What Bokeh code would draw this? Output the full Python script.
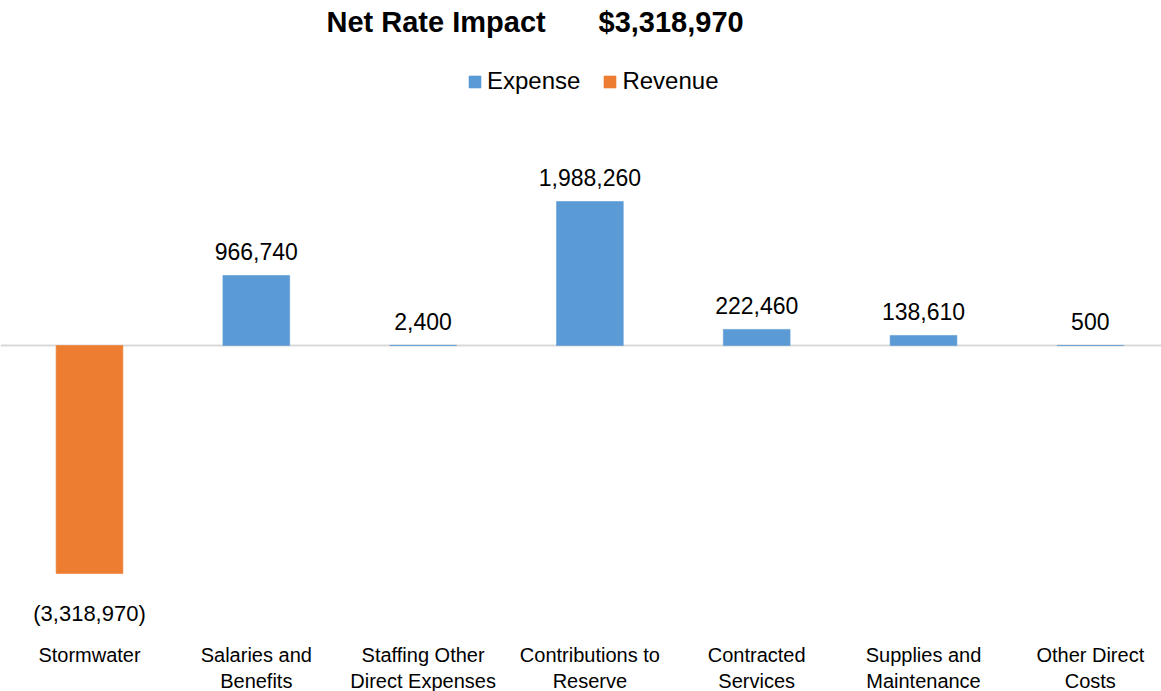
from bokeh.plotting import figure
from bokeh.models import Range1d, Span, Legend, LegendItem, ColumnDataSource
from bokeh.core.properties import value
from bokeh.embed import file_html
from bokeh.resources import INLINE

# ---- data ----
categories = ["Stormwater", "Salaries and\nBenefits", "Staffing Other\nDirect Expenses",
              "Contributions to\nReserve", "Contracted\nServices", "Supplies and\nMaintenance",
              "Other Direct\nCosts"]
amounts = [-3318970, 966740, 2400, 1988260, 222460, 138610, 500]
kinds = ["Revenue", "Expense", "Expense", "Expense", "Expense", "Expense", "Expense"]
title_left = "Net Rate Impact"
title_right = "$3,318,970"

# ---- style ----
COLORS = {"Expense": "#5B9BD5", "Revenue": "#ED7D31"}
FONT = "Liberation Sans"
W, H = 1161, 691
PX_PER_CAT = 166.8
FIRST_CENTER = 89          # px from left of frame
ZERO_Y = 345               # px from top of frame
PX_PER_UNIT = 72.4e-6      # px per dollar
AXIS_MIN = -3150000        # value axis minimum (bars clipped there)

x0 = -FIRST_CENTER / PX_PER_CAT
x1 = x0 + W / PX_PER_CAT
y1 = ZERO_Y / PX_PER_UNIT
y0 = -(H - ZERO_Y) / PX_PER_UNIT

def px2x(px):
    return x0 + px / PX_PER_CAT

def py2y(py):
    return (ZERO_Y - py) / PX_PER_UNIT

p = figure(width=W, height=H, output_backend="svg", toolbar_location=None,
           x_range=Range1d(x0, x1), y_range=Range1d(y0, y1),
           min_border=0, outline_line_color=None)
p.axis.visible = False
p.grid.visible = False

zero = Span(location=0, dimension="width", line_color="#D9D9D9", line_width=2, level="underlay")
p.add_layout(zero)

def fmt(v):
    s = f"{abs(v):,}"
    return f"({s})" if v < 0 else s

items = []
for kind in ["Expense", "Revenue"]:
    idx = [i for i, k in enumerate(kinds) if k == kind]
    src = ColumnDataSource(dict(
        x=idx,
        top=[max(amounts[i], 0) for i in idx],
        bottom=[max(min(amounts[i], 0), AXIS_MIN) for i in idx],
    ))
    r = p.vbar(x="x", top="top", bottom="bottom", width=0.4, source=src,
               fill_color=COLORS[kind], line_color=COLORS[kind], line_width=0.6)
    items.append(LegendItem(label=kind, renderers=[r]))

# data labels
pos = [i for i, v in enumerate(amounts) if v >= 0]
neg = [i for i, v in enumerate(amounts) if v < 0]
p.text(x=pos, y=[amounts[i] for i in pos], text=[fmt(amounts[i]) for i in pos],
       text_align="center", text_baseline="middle", y_offset=-24,
       text_font=value(FONT), text_font_size="23px", text_color="#000000")
p.text(x=neg, y=[AXIS_MIN for i in neg], text=[fmt(amounts[i]) for i in neg],
       text_align="center", text_baseline="middle", y_offset=40,
       text_font=value(FONT), text_font_size="22px", text_color="#000000")

# category labels
p.text(x=list(range(len(categories))), y=[AXIS_MIN] * len(categories), text=categories,
       text_align="center", text_baseline="top", y_offset=70, text_line_height=1.2,
       text_font=value(FONT), text_font_size="20px", text_color="#000000")

# title
p.text(x=[px2x(326)], y=[py2y(21)], text=[title_left], text_align="left",
       text_baseline="middle", text_font=value(FONT), text_font_size="29px",
       text_font_style="bold", text_color="#000000")
p.text(x=[px2x(598)], y=[py2y(21)], text=[title_right], text_align="left",
       text_baseline="middle", text_font=value(FONT), text_font_size="29px",
       text_font_style="bold", text_color="#000000")

legend = Legend(items=items, orientation="horizontal", location=(467, H - 95),
                glyph_width=15, glyph_height=15, label_standoff=5, spacing=22,
                padding=0, margin=0, border_line_color=None, background_fill_alpha=0,
                label_text_font=FONT, label_text_font_size="24px", label_text_color="#000000")
p.add_layout(legend, "center")

open("out.html", "w").write(file_html(p, INLINE))
